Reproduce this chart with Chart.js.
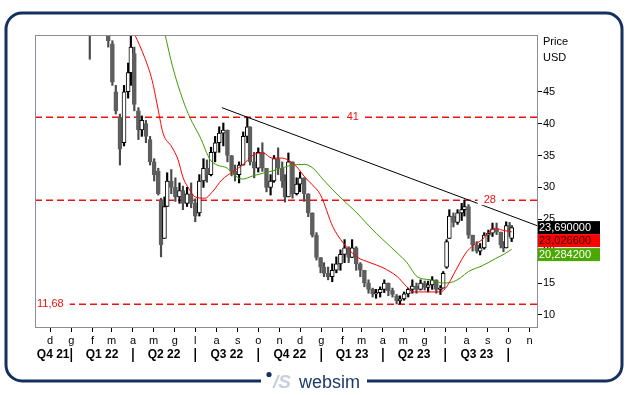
<!DOCTYPE html>
<html>
<head>
<meta charset="utf-8">
<script src="https://cdn.jsdelivr.net/npm/chart.js@4.4.0/dist/chart.umd.min.js"></script>
<style>
  html, body { margin: 0; padding: 0; background: #fff; }
</style>
</head>
<body>
<canvas id="myChart" width="629" height="395"></canvas>
<script>
// price candles
const candleDates = [
  '2022-01-28', '2022-02-24', '2022-03-02', '2022-03-07', '2022-03-13', '2022-03-19', '2022-03-25', '2022-03-29',
  '2022-04-03', '2022-04-09', '2022-04-14', '2022-04-20', '2022-04-26', '2022-05-02', '2022-05-08', '2022-05-12',
  '2022-05-17', '2022-05-21', '2022-05-27', '2022-06-02', '2022-06-08', '2022-06-13', '2022-06-19', '2022-06-25',
  '2022-07-01', '2022-07-07', '2022-07-13', '2022-07-18', '2022-07-24', '2022-07-30', '2022-08-05', '2022-08-11',
  '2022-08-17', '2022-08-23', '2022-08-28', '2022-09-03', '2022-09-09', '2022-09-15', '2022-09-19', '2022-09-25',
  '2022-10-01', '2022-10-07', '2022-10-13', '2022-10-19', '2022-10-24', '2022-10-30', '2022-11-05', '2022-11-09',
  '2022-11-14', '2022-11-20', '2022-11-26', '2022-12-01', '2022-12-07', '2022-12-13', '2022-12-19', '2022-12-25',
  '2022-12-31', '2023-01-05', '2023-01-11', '2023-01-17', '2023-01-23', '2023-01-29', '2023-02-04', '2023-02-10',
  '2023-02-15', '2023-02-21', '2023-02-27', '2023-03-05', '2023-03-11', '2023-03-17', '2023-03-22', '2023-03-28',
  '2023-04-03', '2023-04-09', '2023-04-15', '2023-04-21', '2023-04-26', '2023-05-02', '2023-05-08', '2023-05-14',
  '2023-05-20', '2023-05-26', '2023-06-01', '2023-06-06', '2023-06-12', '2023-06-18', '2023-06-24', '2023-06-28',
  '2023-07-03', '2023-07-07', '2023-07-13', '2023-07-19', '2023-07-25', '2023-07-29', '2023-08-04', '2023-08-10',
  '2023-08-16', '2023-08-21', '2023-08-27', '2023-09-02', '2023-09-08', '2023-09-14', '2023-09-20', '2023-09-24',
  '2023-09-28', '2023-10-03', '2023-10-06'
];
const candleOpen = [
  56, 57, 52.5, 45, 41, 37, 45, 48,
  51, 42, 39, 40, 37.5, 34, 32.5, 28,
  22, 27, 31, 30, 28.5, 29.5, 27.5, 29,
  27.5, 26, 31, 33, 32, 35.5, 37, 38.5,
  39, 35, 32.5, 32, 33.5, 38, 39.5, 34,
  33, 35.5, 33, 30, 31, 34.5, 33, 31,
  28.5, 34, 29, 30.5, 31.5, 29, 26, 22.5,
  19, 17.5, 16.5, 16, 17, 18, 19.5, 20.5,
  19, 20.5, 18, 17, 15, 14, 13.3, 13.5,
  14, 15, 13.8, 13, 12.2, 12.5, 13.3, 14,
  14.5, 14, 15, 14.3, 14.7, 15.5, 14, 14.2,
  17.5, 22, 25.5, 24.5, 26, 26.5, 27, 22.5,
  21, 20, 20.5, 22.5, 22.8, 23.5, 23, 21,
  20.5, 24, 22
];
const candleHigh = [
  57, 58, 53, 46, 41.5, 46, 49.5, 54,
  52, 42.5, 41.2, 40.5, 38, 34.5, 33, 28.3,
  28.5, 32.3, 32.8, 31.5, 30.7, 30.2, 30, 30.7,
  28.2, 32, 34.5, 34.3, 36.3, 38, 39.5, 40.1,
  39, 35, 33.5, 34, 38.7, 41, 39.5, 35.5,
  36.2, 37, 33, 32, 35, 36.2, 34, 32,
  35.4, 34, 31.5, 32.4, 31.5, 29, 26, 22.9,
  19, 18.2, 17.5, 18, 19.1, 20.2, 21.8, 20.7,
  21.8, 20.7, 18.2, 17, 15.5, 14.2, 14, 14.4,
  15.5, 15, 14.2, 13.2, 13, 13.6, 14.2, 15.5,
  15, 15.5, 15.3, 15.3, 16, 15.5, 14.6, 16.8,
  21.8, 26.5, 26, 26.5, 27.5, 28, 27.3, 22.5,
  21.5, 21.2, 22.9, 23.3, 24.4, 24.4, 23, 21.5,
  24.6, 24.5, 24
];
const candleLow = [
  50.1, 52, 46, 41.5, 33.5, 36.5, 44, 46,
  42, 37.5, 38, 37, 33.5, 31, 28.8, 19.1,
  22, 27, 29, 27.8, 27.5, 26.5, 27, 26.8,
  24.6, 25.5, 30, 30.8, 31.8, 34, 35.5, 36.5,
  34, 31.8, 31, 30.7, 33.5, 37, 33.5, 31.5,
  32.4, 32.5, 29.3, 28.8, 30.8, 32, 30, 27.7,
  28.5, 28.3, 28.8, 29.3, 27.8, 25.4, 22.2, 18.6,
  16.6, 16, 15.5, 15.2, 16.6, 17, 18.2, 18.2,
  19, 17, 16, 14.4, 13.4, 12.8, 12.6, 12.8,
  13.5, 13, 12.8, 11.7, 11.7, 12.3, 12.8, 13.4,
  13.4, 13.9, 13.9, 13.6, 14, 13.4, 13.2, 14.2,
  17.3, 22, 23.8, 24.2, 24.8, 25.5, 22, 20,
  19.7, 19.4, 20.3, 21.5, 22.3, 22.6, 20.5, 19.9,
  20.5, 22.3, 21.5
];
const candleClose = [
  55, 53, 46.5, 42, 36, 45, 48, 52,
  43, 39, 40.5, 38, 34, 32, 29, 21,
  27, 31, 30, 28.5, 29.5, 27.5, 29, 27.5,
  25.5, 31, 33, 32, 35.5, 37, 38.5, 39,
  35, 32.5, 32, 33.5, 38, 39.5, 34, 33,
  35.5, 33, 30, 31, 34.5, 33, 31, 28.5,
  34, 29, 30.5, 31.5, 29, 26, 22.5, 19,
  17.5, 16.5, 16, 17, 18, 19.5, 20.5, 19,
  20.5, 18, 17, 15, 14, 13.3, 13.5, 14,
  15, 13.8, 13.2, 12.2, 12.5, 13.3, 14, 14.5,
  14, 15, 14.3, 14.7, 15.5, 14, 14.2, 16.5,
  21.5, 25.5, 24.5, 26, 26.5, 27, 22.5, 21,
  20, 20.5, 22.5, 22.8, 23.5, 23, 21, 20.5,
  24, 23, 23.69
];

// red moving average
const redDates = [
  '2022-03-25', '2022-04-04', '2022-04-18', '2022-04-29', '2022-05-06', '2022-05-15', '2022-05-28', '2022-06-06',
  '2022-06-13', '2022-06-20', '2022-07-01', '2022-07-15', '2022-07-26', '2022-08-09', '2022-08-24', '2022-09-08',
  '2022-09-24', '2022-10-08', '2022-10-21', '2022-11-05', '2022-11-20', '2022-11-28', '2022-12-08', '2022-12-19',
  '2022-12-31', '2023-01-18', '2023-02-02', '2023-02-22', '2023-03-13', '2023-04-01', '2023-04-22', '2023-05-06',
  '2023-05-15', '2023-05-30', '2023-06-24', '2023-07-03', '2023-07-09', '2023-07-19', '2023-07-31', '2023-08-11',
  '2023-08-24', '2023-09-02', '2023-09-12', '2023-09-22', '2023-10-06'
];
const redValues = [
  56.3, 53.9, 50.4, 46.8, 43.2, 38.5, 36.3, 34.3,
  31.6, 30.1, 28.5, 28.3, 29.3, 31.2, 32.4, 33.5,
  35.1, 35.4, 34.6, 34.6, 33.8, 33.0, 31.6, 30.4,
  28.8, 23.8, 21.3, 19.1, 18.2, 17.4, 16.0, 14.4,
  13.6, 13.6, 13.6, 14.4, 15.5, 17.5, 19.7, 20.9,
  21.8, 22.9, 23.6, 23.3, 23.0266
];

// green moving average
const greenDates = [
  '2022-05-08', '2022-05-18', '2022-05-29', '2022-06-13', '2022-06-23', '2022-07-08', '2022-07-23', '2022-08-02',
  '2022-08-17', '2022-08-24', '2022-09-08', '2022-09-23', '2022-10-07', '2022-10-26', '2022-11-20', '2022-12-08',
  '2022-12-20', '2023-01-04', '2023-01-18', '2023-02-02', '2023-02-22', '2023-03-13', '2023-04-01', '2023-04-22',
  '2023-05-06', '2023-05-21', '2023-06-09', '2023-06-28', '2023-07-13', '2023-07-23', '2023-08-04', '2023-08-24',
  '2023-09-12', '2023-09-26', '2023-10-06'
];
const greenValues = [
  58.3, 53.9, 48.9, 43.7, 41.0, 37.9, 34.3, 33.5,
  33.0, 32.2, 31.3, 31.8, 32.2, 32.7, 33.5, 33.6,
  33.0, 31.2, 29.6, 28.0, 26.0, 23.8, 21.8, 19.7,
  18.2, 16.0, 15.5, 15.0, 15.2, 15.8, 16.8, 17.7,
  18.8, 19.6, 20.2842
];

// resistance / support levels and trendline
const levels = [41, 28, 11.68];
const levelLabels = ['41', '28', '11,68'];
const trendDates = ['2022-08-09', '2023-11-12'];
const trendValues = [42.5, 24.0];

// last values shown at the right edge
const lastValues = [23.69, 23.0266, 20.2842];

// axes
const monthLetters = ['d', 'g', 'f', 'm', 'a', 'm', 'g', 'l', 'a', 's', 'o', 'n',
                      'd', 'g', 'f', 'm', 'a', 'm', 'g', 'l', 'a', 's', 'o', 'n'];
const quarterStarts = ['2022-01-01', '2022-04-01', '2022-07-01', '2022-10-01',
                       '2023-01-01', '2023-04-01', '2023-07-01', '2023-10-01'];
const quarterLabels = ['Q4 21', 'Q1 22', 'Q2 22', 'Q3 22', 'Q4 22', 'Q1 23', 'Q2 23', 'Q3 23'];
const yTicks = [10, 15, 20, 25, 30, 35, 40, 45];

const base = Date.UTC(2021, 11, 1);
function dayOf(s) {
  const p = s.split('-').map(Number);
  return (Date.UTC(p[0], p[1] - 1, p[2]) - base) / 86400000;
}
const xMin = dayOf('2021-11-09');
const xMax = dayOf('2023-11-12');
const monthTicks = monthLetters.map((l, i) => (Date.UTC(2021, 11 + i, 1) - base) / 86400000);

const up = candleClose.map((c, i) => c >= candleOpen[i]);
const FONT = "'Liberation Sans', Arial, sans-serif";
Chart.defaults.font.family = FONT;

const RED = '#ee1111';
const fmt = v => v.toFixed(6).replace('.', ',');

const decor = {
  id: 'decor',
  beforeDraw(chart) {
    const ctx = chart.ctx;
    ctx.save();
    ctx.fillStyle = '#fff';
    ctx.fillRect(0, 0, chart.width, chart.height);
    ctx.restore();
  },
  afterDatasetsDraw(chart) {
    const ctx = chart.ctx;
    const a = chart.chartArea;
    const ys = chart.scales.y;
    const pos = [a.left + (a.right - a.left) * 0.633, a.left + (a.right - a.left) * 0.906, a.left + 2];
    ctx.save();
    ctx.font = '11px ' + FONT;
    ctx.textBaseline = 'middle';
    levels.forEach((v, i) => {
      const y = ys.getPixelForValue(v);
      const w = ctx.measureText(levelLabels[i]).width;
      const left = i === 2 ? pos[i] : pos[i] - w / 2;
      ctx.fillStyle = '#fff';
      ctx.fillRect(left - 6, y - 5, w + 12, 10);
      ctx.fillStyle = RED;
      ctx.textAlign = 'left';
      ctx.fillText(levelLabels[i], left, y);
    });
    ctx.restore();
  },
  afterDraw(chart) {
    const ctx = chart.ctx;
    const a = chart.chartArea;
    const xs = chart.scales.x;
    const ys = chart.scales.y;
    ctx.save();

    // plot frame
    ctx.strokeStyle = '#8c8c9c';
    ctx.lineWidth = 1;
    ctx.strokeRect(a.left + 0.5, a.top + 0.5, a.right - a.left, a.bottom - a.top);

    // axis title
    ctx.fillStyle = '#000';
    ctx.font = '11px ' + FONT;
    ctx.textAlign = 'left';
    ctx.textBaseline = 'middle';
    ctx.fillText('Price', a.right + 6, a.top + 7);
    ctx.fillText('USD', a.right + 6, a.top + 23);

    // quarter separators and labels
    ctx.strokeStyle = '#000';
    ctx.lineWidth = 1.5;
    let prev = a.left;
    ctx.font = 'bold 12px ' + FONT;
    ctx.textAlign = 'center';
    quarterStarts.forEach((d, i) => {
      const px = xs.getPixelForValue(dayOf(d));
      ctx.beginPath();
      ctx.moveTo(px, a.bottom + 21);
      ctx.lineTo(px, a.bottom + 35);
      ctx.stroke();
      ctx.fillStyle = '#000';
      ctx.fillText(quarterLabels[i], (prev + px) / 2, a.bottom + 28);
      prev = px;
    });

    // last value boxes
    const boxColors = ['#000000', '#ff0000', '#4aa800'];
    const textColors = ['#ffffff', '#3a0000', '#ffffff'];
    ctx.font = '11px ' + FONT;
    ctx.textAlign = 'left';
    let bottom = 0;
    lastValues.forEach((v, i) => {
      let top = ys.getPixelForValue(v) - 6.5;
      if (top < bottom) top = bottom;
      ctx.fillStyle = boxColors[i];
      ctx.fillRect(a.right + 1, top, 62, 13);
      ctx.fillStyle = textColors[i];
      ctx.fillText(fmt(v), a.right + 2, top + 7);
      bottom = top + 13 + (i === 1 ? 1 : 0);
    });

    // outer rounded frame
    ctx.strokeStyle = '#13305f';
    ctx.lineWidth = 3;
    ctx.beginPath();
    ctx.roundRect(6, 13, 616, 368, 16);
    ctx.stroke();

    // logo
    ctx.fillStyle = '#fff';
    ctx.fillRect(261, 370, 106, 22);
    ctx.fillStyle = '#13305f';
    ctx.beginPath();
    ctx.arc(269, 374.5, 2.6, 0, Math.PI * 2);
    ctx.fill();
    ctx.fillStyle = '#c6d0dc';
    ctx.font = 'italic bold 19px ' + FONT;
    ctx.textBaseline = 'alphabetic';
    ctx.fillText('/S', 273, 388);
    ctx.fillStyle = '#1b3a6c';
    ctx.font = '18px ' + FONT;
    ctx.fillText('websim', 299, 388);
    ctx.restore();
  }
};

const levelSets = levels.map(v => ({
  type: 'line',
  data: [{ x: xMin, y: v }, { x: xMax, y: v }],
  borderColor: RED,
  borderWidth: 1.5,
  borderDash: [7, 4],
  pointRadius: 0,
  order: 6
}));

const data = {
  datasets: [
    ...levelSets,
    {
      type: 'line',
      data: trendDates.map((d, i) => ({ x: dayOf(d), y: trendValues[i] })),
      borderColor: '#000',
      borderWidth: 1,
      pointRadius: 0,
      order: 5
    },
    {
      type: 'bar',
      data: candleDates.map((d, i) => ({ x: dayOf(d), y: [candleLow[i], candleHigh[i]] })),
      backgroundColor: up.map(u => (u ? '#000' : '#4a4a4a')),
      barThickness: 1.5,
      grouped: false,
      order: 4
    },
    {
      type: 'bar',
      data: candleDates.map((d, i) => ({ x: dayOf(d), y: [candleOpen[i], candleClose[i]] })),
      backgroundColor: up.map(u => (u ? '#fff' : '#5e5e5e')),
      borderColor: up.map(u => (u ? '#000' : '#5e5e5e')),
      borderWidth: 1,
      borderSkipped: false,
      barThickness: 4,
      grouped: false,
      order: 3
    },
    {
      type: 'line',
      data: greenDates.map((d, i) => ({ x: dayOf(d), y: greenValues[i] })),
      borderColor: '#3d9e00',
      borderWidth: 1,
      pointRadius: 0,
      cubicInterpolationMode: 'monotone',
      order: 2
    },
    {
      type: 'line',
      data: redDates.map((d, i) => ({ x: dayOf(d), y: redValues[i] })),
      borderColor: '#ff0000',
      borderWidth: 1,
      pointRadius: 0,
      cubicInterpolationMode: 'monotone',
      order: 1
    }
  ]
};

const config = {
  type: 'bar',
  data: data,
  options: {
    responsive: false,
    animation: false,
    devicePixelRatio: 1,
    layout: { padding: { left: 35, top: 35, right: 0, bottom: 0 } },
    plugins: { legend: { display: false }, tooltip: { enabled: false } },
    scales: {
      x: {
        type: 'linear',
        min: xMin,
        max: xMax,
        offset: false,
        afterBuildTicks: s => { s.ticks = monthTicks.map(v => ({ value: v })); },
        afterFit: s => { s.height = 68; },
        grid: { drawOnChartArea: false, tickLength: 5, color: '#000', offset: false },
        border: { display: false },
        ticks: {
          autoSkip: false,
          maxRotation: 0,
          color: '#000',
          font: { size: 11 },
          padding: 2,
          callback: (v, i) => monthLetters[i]
        }
      },
      y: {
        type: 'linear',
        position: 'right',
        min: 8.1,
        max: 53.9,
        afterBuildTicks: s => { s.ticks = yTicks.map(v => ({ value: v })); },
        afterFit: s => { s.width = 92; },
        grid: { drawOnChartArea: false, tickLength: 5, color: '#000' },
        border: { display: false },
        ticks: { color: '#000', font: { size: 11 }, padding: 1 }
      }
    }
  },
  plugins: [decor]
};

new Chart(document.getElementById('myChart'), config);
</script>
</body>
</html>
